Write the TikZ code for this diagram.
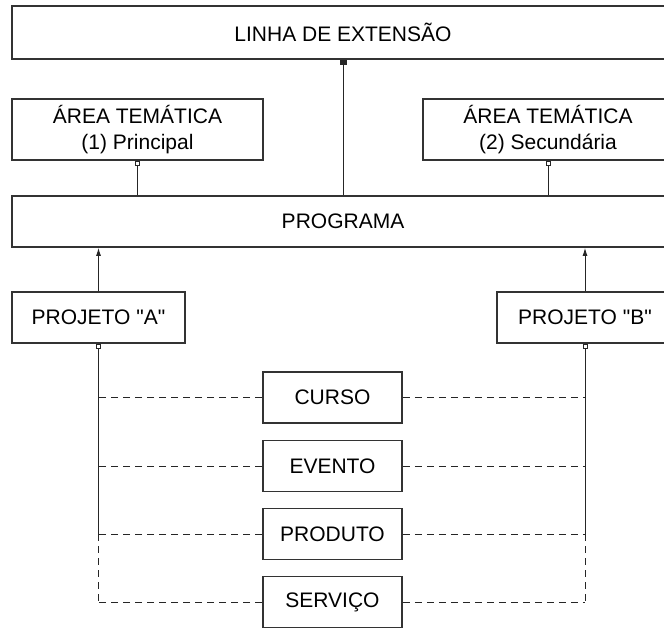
\documentclass[tikz,border=0pt]{standalone}
\usepackage{fontspec}
\setmainfont{Liberation Sans}
\usetikzlibrary{arrows.meta}
\begin{document}
\begin{tikzpicture}[x=1pt, y=-1pt,
  box/.style={draw=black!80, line width=1.8pt, rectangle, inner sep=0pt,
    align=center, font=\fontsize{21}{25.5}\selectfont},
  link/.style={line width=0.9pt, draw=black!85},
  dashlink/.style={link, dash pattern=on 7pt off 5pt}]
\useasboundingbox (0,0) rectangle (664,628);
\node[box, minimum width=662, minimum height=53](linha) at (343,32.5) {LINHA DE EXTENSÃO};
\node[box, minimum width=251, minimum height=61](area1) at (137.5,129.5) {ÁREA TEMÁTICA\\(1) Principal};
\node[box, minimum width=250, minimum height=61](area2) at (548,129.5) {ÁREA TEMÁTICA\\(2) Secundária};
\node[box, minimum width=662, minimum height=51](programa) at (343,221.5) {PROGRAMA};
\node[box, minimum width=173, minimum height=51](projA) at (98.5,317.5) {PROJETO \textquotedbl A\textquotedbl};
\node[box, minimum width=176, minimum height=51](projB) at (585,317.5) {PROJETO \textquotedbl B\textquotedbl};
\node[box, minimum width=139, minimum height=51](curso) at (332.5,397.5) {CURSO};
\node[box, minimum width=139, minimum height=51](evento) at (332.5,466) {EVENTO};
\node[box, minimum width=139, minimum height=51](produto) at (332.5,534) {PRODUTO};
\node[box, minimum width=139, minimum height=51](servico) at (332.5,602) {SERVIÇO};
%
\draw[link, -{Square[length=5pt,width=7pt]}](programa) -- (linha);
\draw[link, -{Square[open,length=5pt,width=5pt]}](programa.north -| area1) -- (area1);
\draw[link, -{Square[open,length=5pt,width=5pt]}](programa.north -| area2) -- (area2);
\draw[link, -{Latex[length=8pt,width=5pt]}](projA) -- (projA |- programa.south);
\draw[link, -{Latex[length=8pt,width=5pt]}](projB) -- (projB |- programa.south);
%
\draw[link, {Square[open,length=5pt,width=5pt]}-](projA.south) -- (projA |- produto.west);
\draw[dashlink](projA |- produto.west) -- (projA |- servico.west);
\draw[link, {Square[open,length=5pt,width=5pt]}-](projB.south) -- (projB |- produto.east);
\draw[dashlink](projB |- produto.east) -- (projB |- servico.east);
\foreach \p in {curso, evento, produto, servico} {
  \draw[dashlink](\p.west) -- (projA |- \p.west);
  \draw[dashlink](\p.east) -- (projB |- \p.east);
}
\end{tikzpicture}
\end{document}
